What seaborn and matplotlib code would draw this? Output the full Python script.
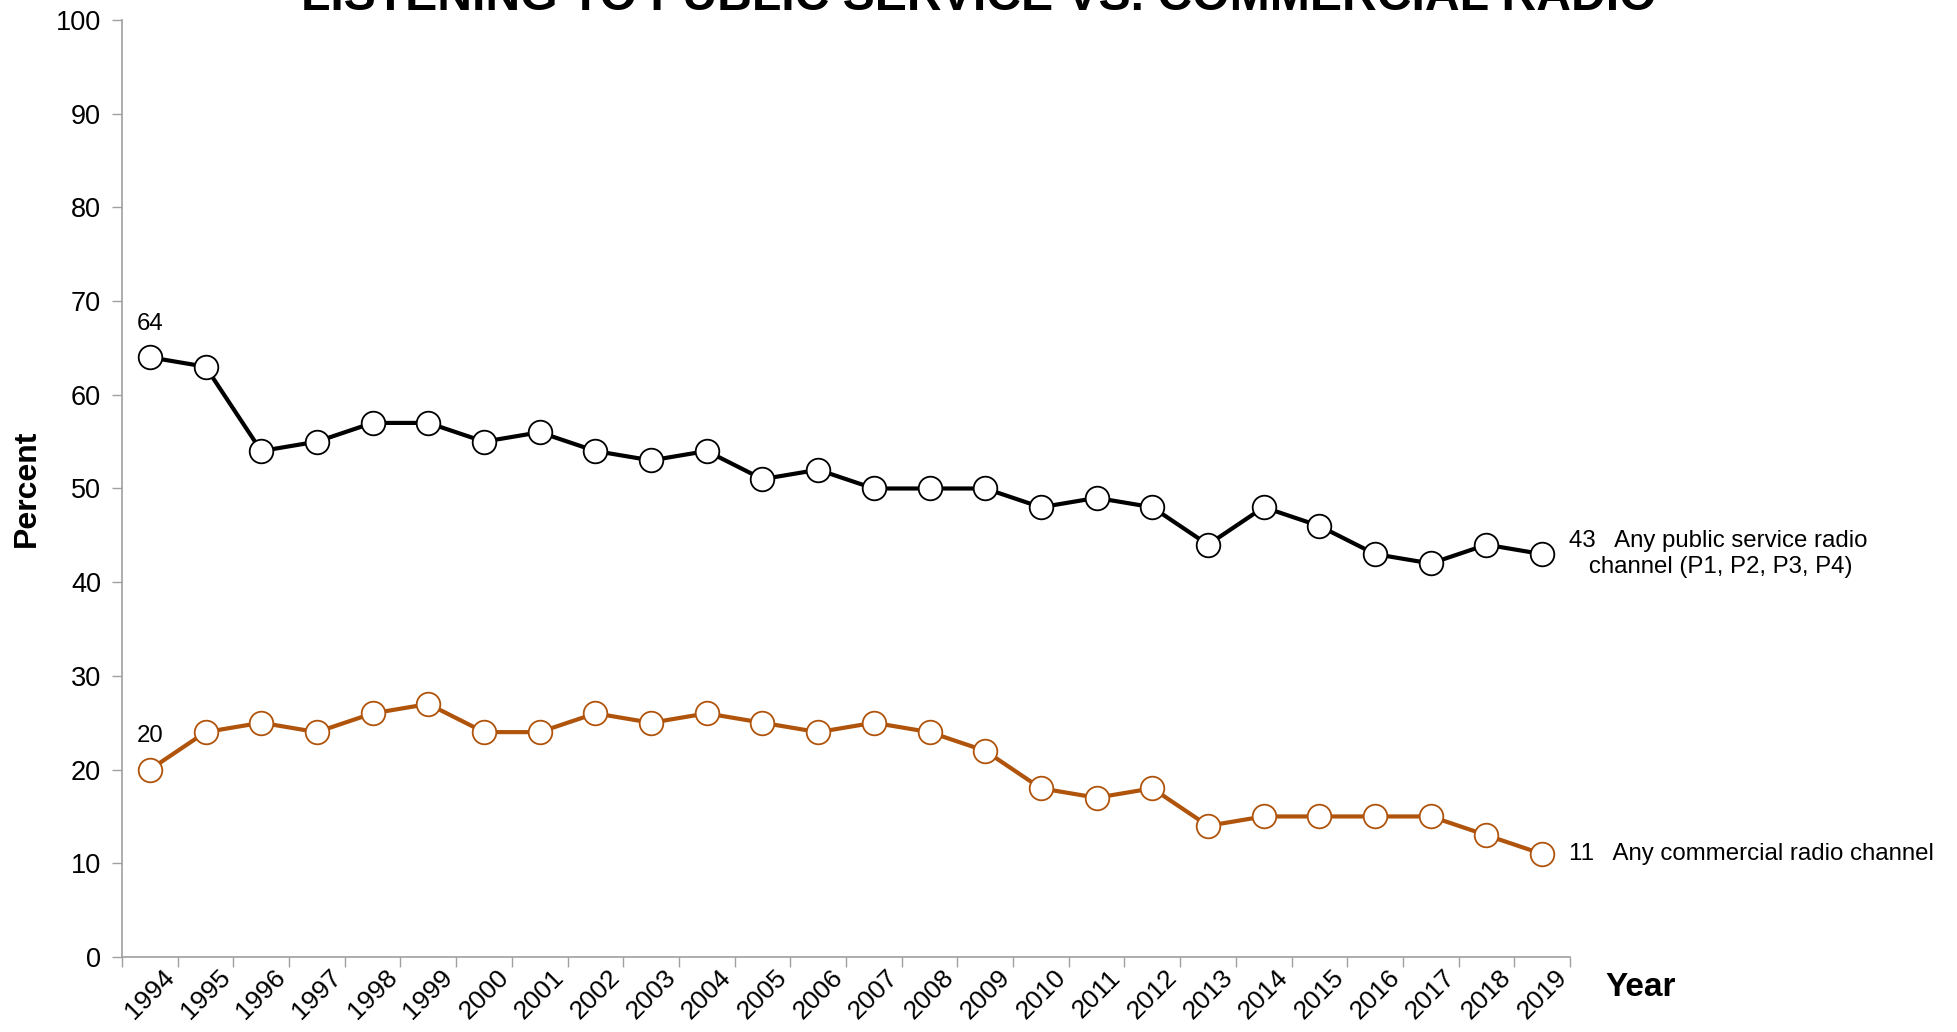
import numpy as np
import pandas as pd
import seaborn as sns
import matplotlib.pyplot as plt

years = [str(y) for y in range(1994, 2020)]
public_service = [64, 63, 54, 55, 57, 57, 55, 56, 54, 53, 54, 51, 52, 50, 50, 50,
                  48, 49, 48, 44, 48, 46, 43, 42, 44, 43]
commercial = [20, 24, 25, 24, 26, 27, 24, 24, 26, 25, 26, 25, 24, 25, 24, 22,
              18, 17, 18, 14, 15, 15, 15, 15, 13, 11]

sns.set_theme(style="white")
plt.rcParams['font.family'] = ['Liberation Sans', 'DejaVu Sans']
plt.rcParams['text.color'] = 'black'
plt.rcParams['axes.labelcolor'] = 'black'
plt.rcParams['xtick.color'] = 'black'
plt.rcParams['ytick.color'] = 'black'

fig = plt.figure(figsize=(19.57, 10.32), dpi=100)
ax = fig.add_axes([122 / 1957, 1 - 957 / 1032, (1570 - 122) / 1957, (957 - 20) / 1032])

pos = np.arange(len(years))
df = pd.DataFrame({"pos": pos, "public": public_service, "commercial": commercial})

black = "#000000"
orange = "#B0540C"

sns.lineplot(data=df, x="pos", y="public", ax=ax, color=black, linewidth=3,
             marker="o", markersize=17, markerfacecolor="white",
             markeredgecolor=black, markeredgewidth=1.3, zorder=3)
sns.lineplot(data=df, x="pos", y="commercial", ax=ax, color=orange, linewidth=3,
             marker="o", markersize=17, markerfacecolor="white",
             markeredgecolor=orange, markeredgewidth=1.3, zorder=3)

ax.set_xlim(-0.5, len(years) - 0.5)
ax.set_ylim(0, 100)
ax.set_yticks(np.arange(0, 101, 10))

ax.set_xticks(np.arange(-0.5, len(years)), labels=[])
ax.set_xticks(pos, labels=years, minor=True)
ax.tick_params(axis="x", which="major", length=7, width=1, color="#A0A0A0",
               direction="out", bottom=True)
ax.tick_params(axis="x", which="minor", length=0, labelsize=19, pad=6)
for lbl in ax.get_xticklabels(minor=True):
    lbl.set_rotation(45)
    lbl.set_ha("center")
    lbl.set_va("top")
ax.tick_params(axis="y", length=7, width=1, color="#A0A0A0", direction="out",
               left=True, labelsize=19.5, pad=8)

for side in ["top", "right"]:
    ax.spines[side].set_visible(False)
for side in ["left", "bottom"]:
    ax.spines[side].set_color("#A0A0A0")
    ax.spines[side].set_linewidth(1.2)

ax.set_xlabel("")
ax.set_ylabel("Percent", fontsize=23, fontweight="bold", va="center")
ax.yaxis.set_label_coords(-0.066, 0.5)
fig.text(1641 / 1957, 1 - 987 / 1032, "Year", fontsize=24, fontweight="bold",
         ha="center", va="center")

# start and end value labels
ax.annotate(f"{public_service[0]}", (pos[0], public_service[0]), xytext=(0, 24),
            textcoords="offset points", ha="center", va="center", fontsize=17.3)
ax.annotate(f"{commercial[0]}", (pos[0], commercial[0]), xytext=(0, 24),
            textcoords="offset points", ha="center", va="center", fontsize=17.3)
ax.annotate(f"{public_service[-1]}   Any public service radio\n   channel (P1, P2, P3, P4)",
            (pos[-1], public_service[-1]), xytext=(19, 0), textcoords="offset points",
            ha="left", va="center", fontsize=17.3, annotation_clip=False,
            linespacing=1.2)
ax.annotate(f"{commercial[-1]}   Any commercial radio channel",
            (pos[-1], commercial[-1]), xytext=(19, 0), textcoords="offset points",
            ha="left", va="center", fontsize=17.3, annotation_clip=False)

fig.text(979 / 1957, 1 - 10 / 1032, "LISTENING TO PUBLIC SERVICE VS. COMMERCIAL RADIO",
         fontsize=34.7, fontweight="bold", ha="center", va="baseline",
         family=["Liberation Sans Narrow", "Liberation Sans", "DejaVu Sans"])

fig.savefig("out.png", dpi=100, facecolor="white")
